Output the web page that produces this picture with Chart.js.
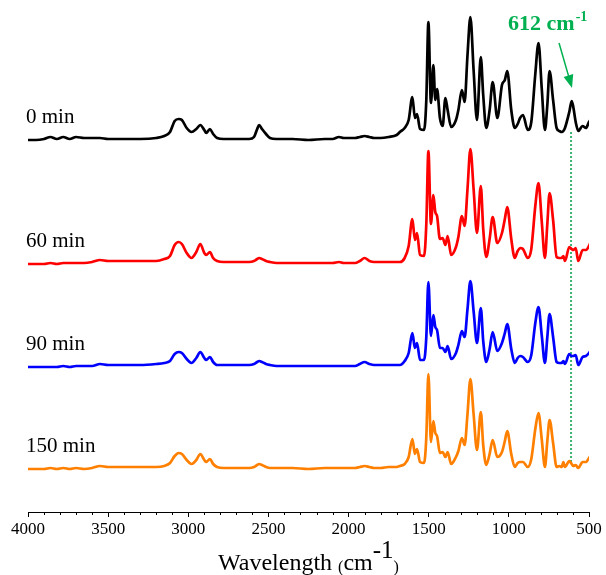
<!DOCTYPE html>
<html>
<head>
<meta charset="utf-8">
<script src="https://cdn.jsdelivr.net/npm/chart.js@4/dist/chart.umd.min.js"></script>
<style>
html, body { margin: 0; padding: 0; background: #fff; }
#wrap { width: 606px; height: 575px; position: relative; }
</style>
</head>
<body>
<div id="wrap"><canvas id="myChart"></canvas></div>
<script>
// FTIR spectra, intensity above each trace's own baseline (arbitrary units)
const wavenumbers = [
	4000, 3950, 3900, 3860, 3820, 3780, 3740, 3700, 3650, 3600,
	3551, 3500, 3400, 3300, 3200, 3150, 3114, 3085, 3060, 3040,
	3010, 2980, 2950, 2925, 2900, 2888, 2865, 2845, 2820, 2780,
	2700, 2620, 2590, 2570, 2558, 2540, 2515, 2490, 2450, 2350,
	2250, 2150, 2100, 2060, 2030, 2000, 1960, 1930, 1900, 1870,
	1840, 1800, 1750, 1700, 1680, 1650, 1625, 1602, 1586, 1573,
	1554, 1529, 1515, 1502, 1486, 1471, 1459, 1448, 1430, 1413,
	1396, 1382, 1360, 1330, 1315, 1293, 1276, 1258, 1240, 1220,
	1199, 1175, 1160, 1141, 1120, 1101, 1072, 1043, 1025, 1010,
	985, 963, 945, 930, 912, 882, 860, 835, 815, 795,
	775, 760, 746, 724, 702, 685, 670, 660, 650, 623,
	608, 598, 583, 567, 540, 519, 500, 492,
]
const min0 = [
	0, 0, 1, 3, 1, 3, 1, 3, 2, 2,
	2, 1, 1, 1, 2, 4, 8, 19, 21, 20,
	12, 8, 11, 15, 10, 7, 11, 6, 2, 1,
	1, 1, 3, 11, 15, 11, 6, 2, 1, 1,
	0, 1, 1, 3, 2, 2, 2, 3, 4, 3,
	2, 2, 3, 5, 8, 12, 20, 43, 22, 26,
	11, 10, 40, 118, 37, 75, 40, 51, 22, 14,
	42, 30, 13, 20, 30, 50, 38, 85, 123, 70,
	20, 83, 45, 12, 30, 58, 22, 55, 60, 69,
	30, 12, 16, 22, 25, 10, 18, 66, 97, 52,
	10, 35, 69, 40, 12, 9, 8, 9, 12, 28,
	39, 33, 18, 9, 14, 12, 18, 20,
]
const min60 = [
	0, 0, 0, 1, 0, 1, 1, 1, 1, 2,
	4, 3, 3, 3, 3, 5, 8, 19, 22, 20,
	11, 6, 12, 20, 11, 9, 12, 6, 3, 2,
	2, 2, 3, 5, 6, 5, 3, 2, 1, 1,
	1, 1, 1, 2, 1, 1, 1, 3, 6, 3,
	2, 2, 2, 2, 2, 6, 18, 45, 24, 31,
	9, 8, 40, 113, 40, 69, 52, 48, 25, 26,
	19, 28, 9, 17, 27, 48, 38, 75, 115, 75,
	31, 78, 35, 7, 25, 47, 21, 31, 45, 57,
	25, 6, 13, 16, 15, 6, 15, 58, 81, 43,
	6, 40, 71, 44, 7, 6, 6, 8, 3, 17,
	15, 14, 16, 3, 14, 14, 18, 21,
]
const min90 = [
	0, 0, 0, 0, 0, 1, 0, 1, 1, 1,
	3, 2, 2, 2, 3, 4, 6, 13, 15, 14,
	8, 4, 9, 15, 9, 7, 10, 5, 2, 2,
	2, 2, 3, 5, 6, 5, 3, 2, 1, 1,
	1, 1, 1, 1, 1, 1, 1, 3, 5, 3,
	2, 2, 2, 2, 2, 6, 14, 34, 19, 24,
	7, 7, 30, 85, 31, 52, 40, 37, 19, 19,
	15, 21, 8, 14, 22, 36, 30, 58, 86, 56,
	24, 59, 26, 5, 18, 35, 16, 24, 34, 43,
	18, 4, 9, 11, 10, 5, 12, 44, 60, 32,
	4, 30, 53, 30, 5, 4, 4, 6, 3, 13,
	11, 11, 12, 2, 10, 11, 14, 16,
]
const min150 = [
	0, 0, 0, 1, 0, 1, 0, 1, 0, 1,
	3, 2, 2, 2, 2, 3, 6, 13, 16, 15,
	9, 5, 9, 15, 9, 7, 10, 5, 2, 1,
	1, 1, 2, 4, 5, 4, 2, 1, 1, 1,
	0, 1, 1, 1, 1, 1, 1, 2, 3, 2,
	1, 1, 2, 2, 3, 5, 12, 30, 15, 20,
	7, 6, 32, 95, 27, 48, 36, 33, 16, 17,
	12, 17, 5, 12, 18, 31, 24, 55, 90, 55,
	19, 57, 24, 4, 15, 29, 12, 17, 28, 38,
	15, 2, 6, 7, 7, 2, 10, 40, 56, 30,
	2, 28, 49, 26, 2, 3, 2, 7, 2, 8,
	5, 3, 4, 1, 7, 7, 11, 13,
]
const seriesNames = ['0 min', '60 min', '90 min', '150 min']
const xTicks = [4000, 3500, 3000, 2500, 2000, 1500, 1000, 500]
const markedBand = 612

const serif = "'Times New Roman', 'Liberation Serif', serif"
const baselines = [372, 248, 145, 43]
const colors = ['#000000', '#ff0000', '#0000ff', '#ff8000']
const spectra = [min0, min60, min90, min150]

function toPoints(vals, base) {
	return wavenumbers.map(function (w, i) {
		return { x: w, y: base + vals[i] }
	})
}

const datasets = spectra.map(function (vals, i) {
	return {
		label: seriesNames[i],
		data: toPoints(vals, baselines[i]),
		borderColor: colors[i],
		borderWidth: 2.7,
		pointRadius: 0,
		cubicInterpolationMode: 'monotone',
		fill: false,
	}
})
// dotted marker line at 612 cm-1
datasets.push({
	label: 'marker',
	data: [{ x: markedBand, y: baselines[0] + 8 }, { x: markedBand, y: baselines[3] + 7 }],
	borderColor: '#3cb371',
	borderWidth: 2,
	borderDash: [2, 2],
	pointRadius: 0,
	fill: false,
})

const decor = {
	id: 'decor',
	afterDraw(chart) {
		const ctx = chart.ctx
		const area = chart.chartArea
		const x = chart.scales.x
		const y = chart.scales.y
		ctx.save()

		// minor ticks
		ctx.strokeStyle = '#000'
		ctx.lineWidth = 1
		x.ticks.forEach(function (t) {
			if (xTicks.includes(t.value)) return
			const px = Math.round(x.getPixelForValue(t.value)) + 0.5
			ctx.beginPath()
			ctx.moveTo(px, area.bottom)
			ctx.lineTo(px, area.bottom + 3)
			ctx.stroke()
		})

		// trace labels
		ctx.fillStyle = '#000'
		ctx.font = '21px ' + serif
		ctx.textAlign = 'left'
		ctx.textBaseline = 'middle'
		seriesNames.forEach(function (name, i) {
			ctx.fillText(name, area.left - 2, y.getPixelForValue(baselines[i]) - 23)
		})

		// axis title with superscript
		const parts = [
			{ t: 'Wavelength ', size: 24, dy: 0 },
			{ t: '(', size: 16, dy: 2 },
			{ t: 'cm', size: 24, dy: 0 },
			{ t: '-1', size: 25, dy: -12 },
			{ t: ')', size: 16, dy: 2 },
		]
		let total = 0
		parts.forEach(function (p) {
			ctx.font = p.size + 'px ' + serif
			p.w = ctx.measureText(p.t).width
			total += p.w
		})
		let cx = (area.left + area.right) / 2 - total / 2
		ctx.textBaseline = 'alphabetic'
		parts.forEach(function (p) {
			ctx.font = p.size + 'px ' + serif
			ctx.fillText(p.t, cx, 570 + p.dy)
			cx += p.w
		})

		// 612 cm-1 annotation
		const green = '#00b050'
		ctx.fillStyle = green
		ctx.font = 'bold 22px ' + serif
		const tx = x.getPixelForValue(1005)
		ctx.fillText('612 cm', tx, 30)
		const tw = ctx.measureText('612 cm').width
		ctx.font = 'bold 14px ' + serif
		ctx.fillText('-1', tx + tw + 1, 21)

		// arrow
		const x0 = x.getPixelForValue(687), y0 = y.getPixelForValue(469)
		const x1 = x.getPixelForValue(606), y1 = y.getPixelForValue(424)
		const ang = Math.atan2(y1 - y0, x1 - x0)
		ctx.strokeStyle = green
		ctx.lineWidth = 1.5
		ctx.beginPath()
		ctx.moveTo(x0, y0)
		ctx.lineTo(x1 - 10 * Math.cos(ang), y1 - 10 * Math.sin(ang))
		ctx.stroke()
		ctx.beginPath()
		ctx.moveTo(x1, y1)
		ctx.lineTo(x1 - 13 * Math.cos(ang) + 5 * Math.sin(ang), y1 - 13 * Math.sin(ang) - 5 * Math.cos(ang))
		ctx.lineTo(x1 - 13 * Math.cos(ang) - 5 * Math.sin(ang), y1 - 13 * Math.sin(ang) + 5 * Math.cos(ang))
		ctx.closePath()
		ctx.fill()

		ctx.restore()
	},
}

const ctx = document.getElementById('myChart')
const myChart = new Chart(ctx, {
	type: 'line',
	data: { datasets: datasets },
	options: {
		responsive: true,
		maintainAspectRatio: false,
		animation: false,
		layout: { padding: { left: 28, right: 17, top: 0, bottom: 0 } },
		plugins: {
			legend: { display: false },
			tooltip: { enabled: false },
		},
		scales: {
			x: {
				type: 'linear',
				reverse: true,
				min: 500,
				max: 4000,
				afterFit: function (scale) { scale.height = 63 },
				border: { display: true, color: '#000', width: 1 },
				grid: {
					drawOnChartArea: false,
					tickLength: 5,
					tickColor: function (c) {
						return c.tick && xTicks.includes(c.tick.value) ? '#000' : 'rgba(0,0,0,0)'
					},
				},
				ticks: {
					stepSize: 100,
					autoSkip: false,
					maxRotation: 0,
					padding: 2,
					color: '#000',
					font: { family: serif, size: 17 },
					callback: function (v) { return xTicks.includes(v) ? String(v) : '' },
				},
			},
			y: {
				display: false,
				min: 0,
				max: 512,
			},
		},
	},
	plugins: [decor],
})
</script>
</body>
</html>
